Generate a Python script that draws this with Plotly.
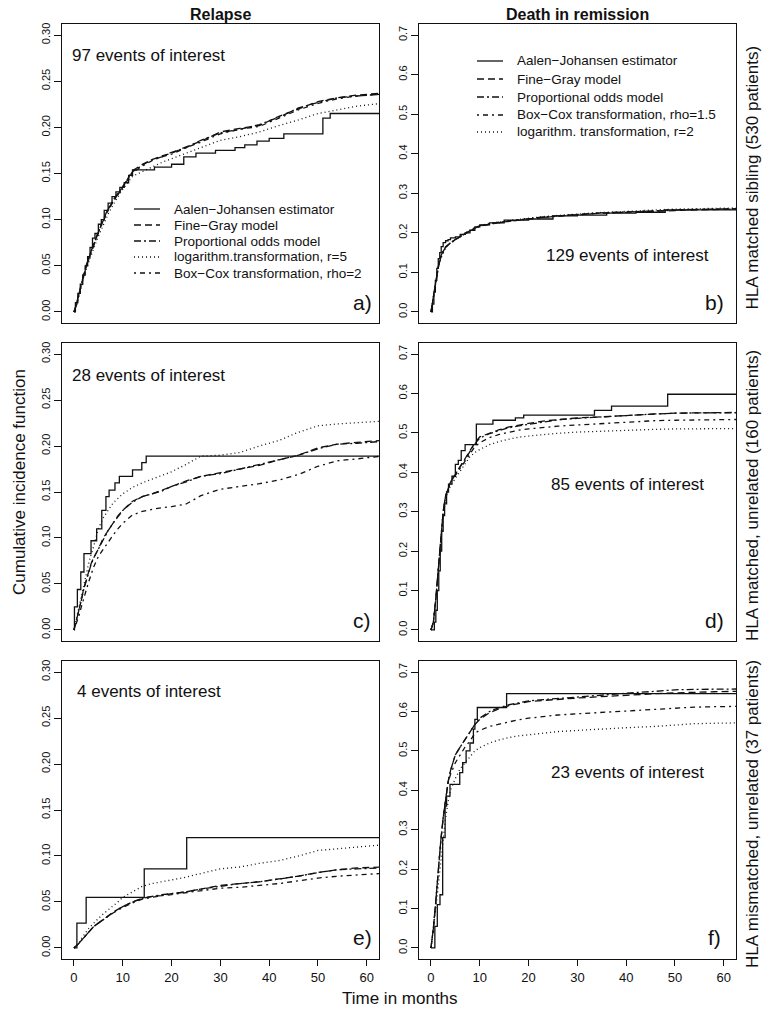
import plotly.graph_objects as go

W, H = 767, 1015

# ---------------- data ----------------
t_grid = [0, 0.5, 1, 1.5, 2, 2.5, 3, 3.5, 4, 5, 6, 7, 8, 9, 10, 12, 14, 16, 18, 20,
          23, 26, 30, 34, 38, 42, 46, 50, 54, 58, 63]

# a) Relapse, HLA matched sibling
aj_a_t = [0, 0.3, 0.8, 1.3, 1.8, 2.3, 2.8, 3.3, 3.8, 4.3, 5, 5.6, 6.2, 7, 7.8, 8.6, 9.4,
          10.3, 11.2, 12, 16.5, 20, 22.5, 25, 29, 33, 35, 37.5, 40, 43, 51, 52.5, 63]
aj_a_v = [0, 0.01, 0.02, 0.03, 0.04, 0.05, 0.06, 0.07, 0.08, 0.085, 0.095, 0.1, 0.11, 0.118,
          0.125, 0.13, 0.135, 0.14, 0.148, 0.154, 0.157, 0.16, 0.168, 0.172, 0.175, 0.178,
          0.181, 0.185, 0.188, 0.193, 0.21, 0.215, 0.215]
fg_a = [0, 0.008, 0.02, 0.031, 0.042, 0.05, 0.058, 0.065, 0.072, 0.088, 0.1, 0.112, 0.12, 0.128,
        0.135, 0.153, 0.16, 0.165, 0.169, 0.172, 0.179, 0.185, 0.195, 0.199, 0.202, 0.212, 0.22,
        0.228, 0.232, 0.235, 0.237]
po_a = [0, 0.008, 0.019, 0.03, 0.041, 0.05, 0.058, 0.066, 0.073, 0.087, 0.1, 0.111, 0.121, 0.128,
        0.136, 0.152, 0.159, 0.165, 0.168, 0.173, 0.178, 0.186, 0.194, 0.198, 0.203, 0.211, 0.221,
        0.227, 0.232, 0.234, 0.236]
log_a = [0, 0.007, 0.017, 0.028, 0.038, 0.046, 0.054, 0.061, 0.068, 0.082, 0.095, 0.106, 0.116,
         0.125, 0.133, 0.147, 0.152, 0.157, 0.162, 0.166, 0.172, 0.178, 0.186, 0.19, 0.195, 0.202,
         0.208, 0.215, 0.219, 0.223, 0.226]
bc_a = [0, 0.007, 0.018, 0.03, 0.04, 0.049, 0.057, 0.065, 0.071, 0.086, 0.099, 0.11, 0.119, 0.127,
        0.134, 0.151, 0.158, 0.164, 0.168, 0.171, 0.178, 0.184, 0.193, 0.198, 0.201, 0.21, 0.219,
        0.226, 0.231, 0.234, 0.236]

# b) Death in remission, HLA matched sibling
aj_b_t = [0, 0.3, 0.6, 0.9, 1.2, 1.5, 1.8, 2.1, 2.5, 3, 3.5, 4, 5, 6, 7, 8, 9, 10, 12, 15, 20,
          25, 30, 36, 42, 48, 63]
aj_b_v = [0, 0.02, 0.05, 0.08, 0.11, 0.135, 0.15, 0.165, 0.175, 0.18, 0.183, 0.187, 0.19, 0.196,
          0.2, 0.206, 0.215, 0.22, 0.225, 0.232, 0.235, 0.243, 0.245, 0.25, 0.252, 0.258, 0.258]
fg_b = [0, 0.04, 0.08, 0.115, 0.14, 0.155, 0.165, 0.17, 0.175, 0.183, 0.19, 0.198, 0.205, 0.212,
        0.217, 0.222, 0.226, 0.229, 0.232, 0.235, 0.239, 0.242, 0.246, 0.249, 0.251, 0.253, 0.255,
        0.257, 0.258, 0.259, 0.26]
po_b = [0, 0.04, 0.08, 0.113, 0.138, 0.153, 0.163, 0.169, 0.175, 0.183, 0.191, 0.199, 0.206, 0.213,
        0.218, 0.223, 0.227, 0.23, 0.233, 0.236, 0.24, 0.243, 0.247, 0.25, 0.252, 0.254, 0.256,
        0.258, 0.259, 0.26, 0.261]
bc_b = [0, 0.038, 0.078, 0.112, 0.137, 0.152, 0.163, 0.169, 0.174, 0.182, 0.19, 0.198, 0.205, 0.211,
        0.216, 0.222, 0.226, 0.229, 0.232, 0.235, 0.239, 0.242, 0.246, 0.249, 0.251, 0.254, 0.256,
        0.258, 0.259, 0.26, 0.261]
log_b = [0, 0.036, 0.075, 0.11, 0.135, 0.15, 0.162, 0.169, 0.175, 0.184, 0.192, 0.2, 0.207, 0.213,
         0.218, 0.224, 0.228, 0.231, 0.234, 0.237, 0.241, 0.244, 0.248, 0.251, 0.253, 0.256, 0.258,
         0.26, 0.261, 0.262, 0.263]

# c) Relapse, HLA matched unrelated
aj_c_t = [0, 0.1, 0.7, 1.4, 2.05, 3.5, 4.65, 5.7, 6.55, 7.2, 8.4, 9.3, 12.0, 13.9, 14.8, 63]
aj_c_v = [0, 0.025, 0.044, 0.063, 0.083, 0.097, 0.11, 0.13, 0.145, 0.152, 0.16, 0.167, 0.174,
          0.182, 0.189, 0.189]
fg_c = [0, 0.01, 0.02, 0.032, 0.045, 0.055, 0.065, 0.072, 0.078, 0.088, 0.1, 0.108, 0.116, 0.124,
        0.13, 0.14, 0.145, 0.148, 0.152, 0.156, 0.162, 0.167, 0.171, 0.175, 0.179, 0.185, 0.19,
        0.198, 0.202, 0.204, 0.206]
po_c = [0, 0.01, 0.02, 0.032, 0.044, 0.054, 0.064, 0.071, 0.078, 0.088, 0.099, 0.108, 0.116, 0.123,
        0.13, 0.139, 0.145, 0.148, 0.151, 0.156, 0.161, 0.167, 0.17, 0.175, 0.18, 0.185, 0.19,
        0.197, 0.202, 0.203, 0.205]
log_c = [0, 0.012, 0.025, 0.038, 0.05, 0.062, 0.072, 0.082, 0.09, 0.11, 0.122, 0.13, 0.138, 0.143,
         0.148, 0.155, 0.16, 0.164, 0.168, 0.172, 0.18, 0.189, 0.19, 0.193, 0.2, 0.206, 0.215,
         0.222, 0.224, 0.225, 0.227]
bc_c = [0, 0.007, 0.015, 0.025, 0.035, 0.044, 0.052, 0.06, 0.068, 0.08, 0.088, 0.096, 0.103, 0.11,
        0.116, 0.125, 0.129, 0.131, 0.133, 0.134, 0.137, 0.146, 0.153, 0.156, 0.159, 0.163, 0.169,
        0.178, 0.184, 0.186, 0.189]

# d) Death in remission, HLA matched unrelated
aj_d_t = [0, 0.7, 1.0, 1.3, 1.6, 1.9, 2.2, 2.5, 2.8, 3.2, 3.6, 4.3, 5.0, 5.6, 6.2, 7.0, 9.3,
          12.7, 17.3, 19, 33.5, 37, 48.5, 63]
aj_d_v = [0, 0.02, 0.05, 0.1, 0.15, 0.2, 0.25, 0.29, 0.32, 0.35, 0.37, 0.39, 0.42, 0.43, 0.455,
          0.47, 0.522, 0.532, 0.538, 0.545, 0.557, 0.568, 0.598, 0.598]
fg_d = [0, 0.02, 0.08, 0.16, 0.24, 0.3, 0.34, 0.36, 0.375, 0.395, 0.415, 0.435, 0.455, 0.475,
        0.49, 0.5, 0.508, 0.515, 0.52, 0.524, 0.53, 0.534, 0.538, 0.54, 0.543, 0.546, 0.548, 0.55,
        0.551, 0.552, 0.552]
po_d = [0, 0.02, 0.08, 0.16, 0.24, 0.3, 0.34, 0.36, 0.375, 0.395, 0.414, 0.434, 0.453, 0.472,
        0.487, 0.498, 0.506, 0.513, 0.518, 0.522, 0.528, 0.533, 0.537, 0.54, 0.543, 0.546, 0.548,
        0.55, 0.551, 0.551, 0.551]
bc_d = [0, 0.02, 0.08, 0.16, 0.24, 0.3, 0.34, 0.36, 0.374, 0.392, 0.41, 0.428, 0.445, 0.465,
        0.475, 0.488, 0.496, 0.502, 0.507, 0.51, 0.514, 0.517, 0.52, 0.523, 0.526, 0.529, 0.531,
        0.532, 0.533, 0.534, 0.534]
log_d = [0, 0.02, 0.078, 0.155, 0.232, 0.29, 0.33, 0.352, 0.366, 0.385, 0.405, 0.422, 0.44, 0.45,
         0.458, 0.47, 0.478, 0.484, 0.489, 0.492, 0.496, 0.499, 0.502, 0.504, 0.506, 0.508, 0.509,
         0.51, 0.51, 0.511, 0.511]

# e) Relapse, HLA mismatched unrelated
aj_e_t = [0, 0.6, 2.5, 14.4, 23.1, 63]
aj_e_v = [0, 0.027, 0.055, 0.086, 0.12, 0.12]
fg_e = [0, 0.002, 0.005, 0.008, 0.011, 0.014, 0.017, 0.02, 0.023, 0.027, 0.031, 0.036, 0.039,
        0.042, 0.045, 0.05, 0.054, 0.056, 0.057, 0.059, 0.061, 0.064, 0.068, 0.07, 0.072, 0.075,
        0.078, 0.082, 0.085, 0.087, 0.088]
po_e = [0, 0.002, 0.005, 0.008, 0.011, 0.014, 0.017, 0.02, 0.023, 0.027, 0.031, 0.035, 0.039,
        0.042, 0.045, 0.05, 0.054, 0.056, 0.058, 0.059, 0.061, 0.064, 0.067, 0.07, 0.072, 0.075,
        0.078, 0.082, 0.085, 0.086, 0.087]
log_e = [0, 0.002, 0.005, 0.01, 0.014, 0.018, 0.021, 0.024, 0.027, 0.032, 0.037, 0.041, 0.045,
         0.05, 0.055, 0.061, 0.067, 0.07, 0.072, 0.074, 0.077, 0.081, 0.086, 0.088, 0.092, 0.095,
         0.1, 0.106, 0.108, 0.11, 0.112]
bc_e = [0, 0.002, 0.005, 0.008, 0.011, 0.014, 0.017, 0.02, 0.023, 0.027, 0.031, 0.035, 0.038,
        0.041, 0.044, 0.049, 0.053, 0.055, 0.057, 0.058, 0.06, 0.062, 0.065, 0.066, 0.068, 0.07,
        0.073, 0.076, 0.078, 0.079, 0.081]

# f) Death in remission, HLA mismatched unrelated
aj_f_t = [0, 0.8, 1.3, 1.85, 2.4, 2.9, 3.2, 3.9, 5.9, 6.5, 7.2, 8.0, 8.7, 9.0, 9.5, 15.5, 63]
aj_f_v = [0, 0.055, 0.11, 0.135, 0.28, 0.36, 0.385, 0.415, 0.445, 0.47, 0.5, 0.52, 0.555, 0.58,
          0.61, 0.645, 0.645]
fg_f = [0, 0.05, 0.12, 0.2, 0.27, 0.33, 0.38, 0.42, 0.45, 0.49, 0.51, 0.53, 0.55, 0.567, 0.58,
        0.597, 0.607, 0.615, 0.62, 0.625, 0.628, 0.631, 0.634, 0.637, 0.64, 0.643, 0.645, 0.647,
        0.649, 0.65, 0.651]
po_f = [0, 0.05, 0.12, 0.2, 0.27, 0.33, 0.38, 0.42, 0.45, 0.49, 0.51, 0.53, 0.55, 0.567, 0.583,
        0.6, 0.61, 0.617, 0.622, 0.627, 0.63, 0.633, 0.637, 0.641, 0.645, 0.648, 0.651, 0.655,
        0.656, 0.657, 0.657]
bc_f = [0, 0.05, 0.12, 0.2, 0.27, 0.33, 0.38, 0.42, 0.44, 0.47, 0.49, 0.51, 0.525, 0.545, 0.552,
        0.562, 0.568, 0.574, 0.579, 0.583, 0.587, 0.591, 0.594, 0.597, 0.599, 0.602, 0.605, 0.609,
        0.611, 0.612, 0.613]
log_f = [0, 0.045, 0.1, 0.16, 0.22, 0.28, 0.33, 0.37, 0.4, 0.43, 0.455, 0.47, 0.485, 0.5, 0.508,
         0.52, 0.528, 0.534, 0.538, 0.541, 0.545, 0.549, 0.552, 0.555, 0.557, 0.56, 0.562, 0.566,
         0.569, 0.57, 0.571]

col_titles = ["Relapse", "Death in remission"]
row_labels = ["HLA matched sibling (530 patients)",
              "HLA matched, unrelated (160 patients)",
              "HLA mismatched, unrelated (37 patients)"]
event_texts = ["97 events of interest", "129 events of interest",
               "28 events of interest", "85 events of interest",
               "4 events of interest", "23 events of interest"]
panel_letters = ["a)", "b)", "c)", "d)", "e)", "f)"]
names_left = ["Aalen\u2212Johansen estimator", "Fine\u2212Gray model", "Proportional odds model",
              "logarithm.transformation, r=5", "Box\u2212Cox transformation, rho=2"]
names_right = ["Aalen\u2212Johansen estimator", "Fine\u2212Gray model", "Proportional odds model",
               "Box\u2212Cox transformation, rho=1.5", "logarithm. transformation, r=2"]
x_ticks = [0, 10, 20, 30, 40, 50, 60]
y_ticks_rel = [0, 0.05, 0.10, 0.15, 0.20, 0.25, 0.30]
y_ticks_dth = [0, 0.1, 0.2, 0.3, 0.4, 0.5, 0.6, 0.7]

# ---------------- styles ----------------
FONT = "Liberation Sans, Arial, sans-serif"
INK = "#111111"
LW = 1.3
DASH = {"aj": "solid", "fg": "7px,4px", "po": "7px,3px,2px,3px",
        "bc": "2px,4px,5px,4px", "log": "1px,3px"}

# panel geometry in pixels (left, right, top, bottom)
cols_px = [(62, 379), (419, 736)]
rows_px = [(24, 323), (343, 641), (661, 959)]

def fx(px):
    return px / W

def fy(py):
    return 1 - py / H

panels = [
    dict(aj=(aj_a_t, aj_a_v), fg=fg_a, po=po_a, log=log_a, bc=bc_a, kind="rel"),
    dict(aj=(aj_b_t, aj_b_v), fg=fg_b, po=po_b, log=log_b, bc=bc_b, kind="dth"),
    dict(aj=(aj_c_t, aj_c_v), fg=fg_c, po=po_c, log=log_c, bc=bc_c, kind="rel"),
    dict(aj=(aj_d_t, aj_d_v), fg=fg_d, po=po_d, log=log_d, bc=bc_d, kind="dth"),
    dict(aj=(aj_e_t, aj_e_v), fg=fg_e, po=po_e, log=log_e, bc=bc_e, kind="rel"),
    dict(aj=(aj_f_t, aj_f_v), fg=fg_f, po=po_f, log=log_f, bc=bc_f, kind="dth"),
]
series_names = {"aj": "Aalen-Johansen", "fg": "Fine-Gray", "po": "Proportional odds",
                "log": "logarithm transformation", "bc": "Box-Cox transformation"}

fig = go.Figure()
layout = dict(width=W, height=H, margin=dict(l=0, r=0, t=0, b=0, autoexpand=False),
              paper_bgcolor="white", plot_bgcolor="white", showlegend=False,
              font=dict(family=FONT, color=INK), annotations=[], shapes=[])

for i, p in enumerate(panels):
    r, c = divmod(i, 2)
    n = i + 1
    xa = "x" if n == 1 else f"x{n}"
    ya = "y" if n == 1 else f"y{n}"
    for key in ["aj", "fg", "po", "log", "bc"]:
        if key == "aj":
            xs, ys = p["aj"]
            shape = "hv"
        else:
            xs, ys = t_grid, p[key]
            shape = "linear"
        fig.add_trace(go.Scatter(
            x=xs, y=ys, mode="lines", xaxis=xa, yaxis=ya,
            line=dict(color=INK, width=LW, dash=DASH[key], shape=shape),
            name=series_names[key], showlegend=False, hoverinfo="skip"))

    x0, x1 = cols_px[c]
    y0, y1 = rows_px[r]
    xkey = "xaxis" if n == 1 else f"xaxis{n}"
    ykey = "yaxis" if n == 1 else f"yaxis{n}"
    bottom = r == 2
    layout[xkey] = dict(domain=[fx(x0), fx(x1)], anchor=ya, range=[-2.45, 62.5],
                        automargin=False,
                        showgrid=False, zeroline=False, showline=True, mirror=True,
                        linecolor=INK, linewidth=1,
                        ticks="outside" if bottom else "", ticklen=6, tickcolor=INK,
                        tickvals=x_ticks, showticklabels=bottom,
                        tickfont=dict(size=13, family=FONT, color=INK))
    if p["kind"] == "rel":
        yr, tv, tf = [-0.012, 0.312], y_ticks_rel, ".2f"
    else:
        yr, tv, tf = [-0.028, 0.728], y_ticks_dth, ".1f"
    layout[ykey] = dict(domain=[fy(y1), fy(y0)], anchor=xa, range=yr,
                        automargin=False,
                        showgrid=False, zeroline=False, showline=True, mirror=True,
                        linecolor=INK, linewidth=1, ticks="outside", ticklen=7,
                        tickcolor=INK, tickvals=tv, tickformat=tf, tickangle=-90,
                        tickfont=dict(size=11, family=FONT, color=INK))

ann = layout["annotations"]
shp = layout["shapes"]

# in-panel legends (line samples + labels)
legend_specs = [
    (["aj", "fg", "po", "log", "bc"], names_left, (134, 160), 172, [209, 225, 241, 257, 273]),
    (["aj", "fg", "po", "bc", "log"], names_right, (477, 503), 515, [61, 79, 97, 115, 132]),
]
for keys, names, (lx0, lx1), tx, ys in legend_specs:
    for key, name, yy in zip(keys, names, ys):
        shp.append(dict(type="line", xref="paper", yref="paper",
                        x0=fx(lx0), x1=fx(lx1), y0=fy(yy), y1=fy(yy),
                        line=dict(color=INK, width=LW, dash=DASH[key])))
        ann.append(dict(x=fx(tx), y=fy(yy), xref="paper", yref="paper", text=name,
                        showarrow=False, xanchor="left", yanchor="middle",
                        font=dict(size=13.5, family=FONT, color=INK)))

# column titles
for c, t in enumerate(col_titles):
    x0, x1 = cols_px[c]
    ann.append(dict(x=fx((x0 + x1) / 2), y=fy(15), xref="paper", yref="paper",
                    text=f"<b>{t}</b>", showarrow=False, xanchor="center", yanchor="middle",
                    font=dict(size=16, family=FONT, color=INK)))
# row labels on the right
for r, t in enumerate(row_labels):
    y0, y1 = rows_px[r]
    ann.append(dict(x=fx(752), y=fy((y0 + y1) / 2 + 4), xref="paper", yref="paper",
                    text=t, textangle=-90, showarrow=False,
                    xanchor="center", yanchor="middle",
                    font=dict(size=17, family=FONT, color=INK)))
# event texts
ev_pos = [(70, 55, "left"), (627, 255, "center"), (70, 375, "left"),
          (627, 485, "center"), (75, 691, "left"), (627, 772, "center")]
for (px, py, anc), t in zip(ev_pos, event_texts):
    ann.append(dict(x=fx(px), y=fy(py), xref="paper", yref="paper", text=t,
                    showarrow=False, xanchor=anc, yanchor="middle",
                    font=dict(size=17, family=FONT, color=INK)))
# panel letters
let_pos = [(362, 302), (714, 302), (362, 620), (714, 620), (362, 937), (714, 937)]
for (px, py), t in zip(let_pos, panel_letters):
    ann.append(dict(x=fx(px), y=fy(py), xref="paper", yref="paper", text=t,
                    showarrow=False, xanchor="center", yanchor="middle",
                    font=dict(size=21, family=FONT, color=INK)))
# axis titles
ann.append(dict(x=fx(19), y=fy(482), xref="paper", yref="paper",
                text="Cumulative incidence function", textangle=-90, showarrow=False,
                xanchor="center", yanchor="middle",
                font=dict(size=17, family=FONT, color=INK)))
ann.append(dict(x=fx(400), y=fy(998), xref="paper", yref="paper",
                text="Time in months", showarrow=False,
                xanchor="center", yanchor="middle",
                font=dict(size=17, family=FONT, color=INK)))

fig.update_layout(**layout)
fig.write_html("out.html", config={"displayModeBar": False},
               post_script="document.body.style.margin='0';document.body.style.padding='0';")
